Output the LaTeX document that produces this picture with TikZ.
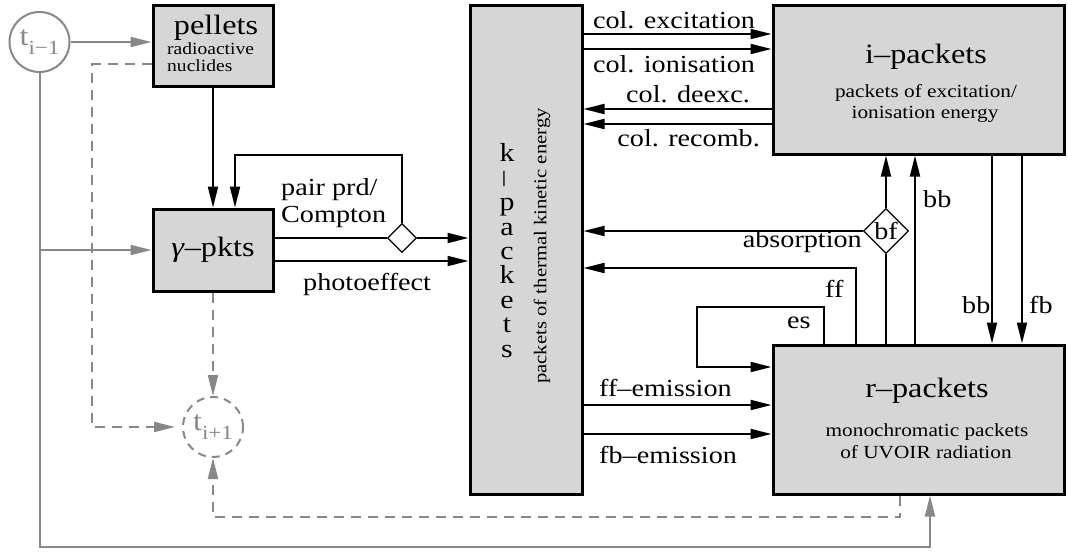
\documentclass[tikz,border=0pt]{standalone}
\usepackage{fontspec}
\setmainfont{Liberation Serif}[FakeStretch=1.15]
\usetikzlibrary{arrows.meta,shapes.geometric}
\definecolor{boxgray}{RGB}{214,214,214}
\definecolor{lgray}{RGB}{136,136,136}
\newcommand\ttlf{\fontsize{28}{30}\selectfont}
\newcommand\lblf{\fontsize{24.5}{26}\selectfont}
\newcommand\subf{\fontsize{18.5}{20}\selectfont}
\newcommand\psubf{\fontsize{17}{18}\selectfont}
\newcommand\tf{\fontsize{28}{28}\selectfont}
\newcommand\tsub[1]{\raisebox{-9pt}{\fontsize{20}{20}\selectfont #1}}
\tikzset{
  box/.style={draw=black, line width=3pt, fill=boxgray, inner sep=0pt},
  conn/.style={line width=2pt},
  arr/.style={line width=2pt, -{Triangle[length=21pt,width=10pt]}},
  garr/.style={draw=lgray, line width=2pt, -{Triangle[length=21pt,width=10pt]}},
  gdarr/.style={draw=lgray, line width=2pt, dash pattern=on 10pt off 7pt, -{Triangle[length=21pt,width=10pt]}},
  lbl/.style={font=\lblf, inner sep=0pt, anchor=base},
  tcirc/.style={circle, draw=lgray, line width=2pt, minimum size=60pt, inner sep=0pt, text=lgray, font=\tf},
  dia/.style={diamond, draw, line width=1.3pt, fill=white, inner sep=0pt}
}
\begin{document}
\begin{tikzpicture}[x=1pt,y=-1pt]
\path[use as bounding box, fill=white] (0,0) rectangle (1068,555);

% boxes
\node[box, minimum width=120pt, minimum height=81pt] (pel) at (213,45.5) {};
\node[lbl, font=\ttlf] (pelT) at (216,34) {pellets};
\node[lbl, anchor=base west, font=\psubf] (pelS1) at (167,54) {radioactive};
\node[lbl, anchor=base west, font=\psubf] (pelS2) at (167,71) {nuclides};

\node[box, minimum width=120pt, minimum height=82pt, font=\ttlf] (gam) at (213,250) {\textit{γ}–pkts};

\node[box, minimum width=112pt, minimum height=489pt] (k) at (526,249.5) {};
\node[inner sep=0pt, align=center, font={\fontsize{26}{24.4}\selectfont}] (kT) at (507,250.5)
  {k\\ \rotatebox{90}{–}\\ p\\ a\\ c\\ k\\ e\\ t\\ s};
\node[inner sep=0pt, rotate=90, font={\fontsize{18}{20}\selectfont}] (kS) at (542,246) {packets of thermal kinetic energy};

\node[box, minimum width=291pt, minimum height=149pt] (i) at (918.5,79.5) {};
\node[lbl, font=\ttlf] (iT) at (926,63) {i–packets};
\node[lbl, font=\subf] (iS1) at (926,97) {packets of excitation/};
\node[lbl, font=\subf] (iS2) at (925,118) {ionisation energy};

\node[box, minimum width=291pt, minimum height=149pt] (r) at (918.5,419.5) {};
\node[lbl, font=\ttlf] (rT) at (927,397) {r–packets};
\node[lbl, font=\subf] (rS1) at (927,436) {monochromatic packets};
\node[lbl, font=\subf] (rS2) at (926,458) {of UVOIR radiation};

% time circles
\node[tcirc] (tim1) at (39.5,42) {t\tsub{i−1}};
\node[tcirc, dash pattern=on 8pt off 6pt] (tip1) at (213,427) {t\tsub{i+1}};

% diamonds
\node[dia, minimum width=29pt, minimum height=29pt] (dpc) at (402,238) {};
\node[dia, minimum width=45pt, minimum height=45pt, font=\lblf] (bf) at (886,231) {bf};

% gray time connectors
\draw[garr] (tim1) -- (pel.west |- tim1);
\coordinate (br) at (tim1.south |- gam.west);
\draw[garr] (tim1.south) -- (tim1.south |- 0,547) -- (930,547) -- (r.south -| 930,0);
\draw[garr] (br) -- (gam.west);
\draw[gdarr, shorten >=7pt] (pel.west |- 0,64) -- (92,64) -- (92,427) -- (tip1.west);
\draw[gdarr] (gam) -- (tip1);
\draw[gdarr] (r.south -| 900,0) -- (900,517) -- (213,517) -- (tip1.south);

% gamma packets
\draw[arr] (pel) -- (gam);
\draw[conn] (gam.east |- dpc) -- (dpc.west);
\draw[arr] (dpc.east) -- (k.west |- dpc);
\draw[arr] (dpc.north) -- (dpc.north |- 0,155) -- (235,155) -- (gam.north -| 235,0);
\draw[arr] (gam.east |- 0,261) -- (k.west |- 0,261);

% k <-> i
\draw[arr] (k.east |- 0,34) -- (i.west |- 0,34);
\draw[arr] (k.east |- 0,49) -- (i.west |- 0,49);
\draw[arr] (i.west |- 0,109) -- (k.east |- 0,109);
\draw[arr] (i.west |- 0,124) -- (k.east |- 0,124);

% r -> k, r -> i, i -> r
\draw[arr] (bf.west) -- (k.east |- bf);
\draw[conn] (r.north -| bf) -- (bf.south);
\draw[arr] (bf.north) -- (i.south -| bf);
\draw[arr] (r.north -| 915,0) -- (i.south -| 915,0);
\draw[arr] (i.south -| 992,0) -- (r.north -| 992,0);
\draw[arr] (i.south -| 1022,0) -- (r.north -| 1022,0);
\draw[arr] (r.north -| 856,0) -- (856,268) -- (k.east |- 0,268);
\draw[arr] (r.north -| 824,0) -- (824,307) -- (697,307) -- (697,367) -- (r.west |- 0,367);

% k -> r
\draw[arr] (k.east |- 0,405) -- (r.west |- 0,405);
\draw[arr] (k.east |- 0,434) -- (r.west |- 0,434);

% labels
\node[lbl] (l1) at (674,28) {col. excitation};
\node[lbl] (l2) at (674,72) {col. ionisation};
\node[lbl, anchor=base east] (l3) at (750,102) {col. deexc.};
\node[lbl, anchor=base east] (l4) at (760,146) {col. recomb.};
\node[lbl, anchor=base west] (l5) at (281,195) {pair prd/};
\node[lbl, anchor=base west] (l6) at (281,222) {Compton};
\node[lbl, anchor=base west] (l7) at (303,290) {photoeffect};
\node[lbl, anchor=base east] (l8) at (862,247) {absorption};
\node[lbl, anchor=base west] (l9) at (923,207) {bb};
\node[lbl, anchor=base west] (l10) at (962,313) {bb};
\node[lbl, anchor=base west] (l11) at (1029,313) {fb};
\node[lbl, anchor=base west] (l12) at (825,297) {ff};
\node[lbl, anchor=base west] (l13) at (787,328) {es};
\node[lbl, anchor=base west] (l14) at (599,396) {ff–emission};
\node[lbl, anchor=base west] (l15) at (599,463) {fb–emission};
\end{tikzpicture}
\end{document}
